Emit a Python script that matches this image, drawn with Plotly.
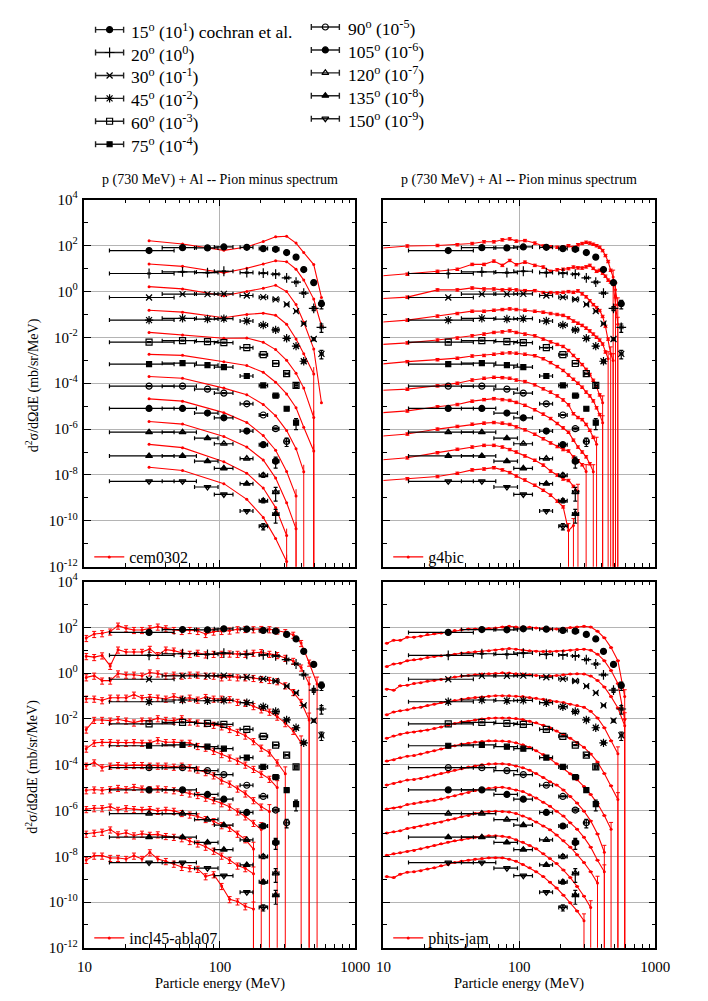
import plotly.graph_objects as go

FONT = "Liberation Serif"
RED = "#ff0000"

# ---------------------------------------------------------------- angles
angles = [15, 20, 30, 45, 60, 75, 90, 105, 120, 135, 150]
scale_exp = [1, 0, -1, -2, -3, -4, -5, -6, -7, -8, -9]
exp_symbols = ["circle", "cross-thin-open", "x-thin-open", "asterisk-open", "square-open",
               "square", "circle-open", "circle", "triangle-up-open", "triangle-up",
               "triangle-down-open"]
exp_sizes = [6, 7, 6, 7, 6, 5, 6, 6, 6, 6, 6]

# ------------------------------------------------- Cochran et al. (mb/sr/MeV)
exp_energy = [30, 53, 81, 107, 158, 209, 258, 311, 365, 416, 493, 562]
exp_bin_lo = [15.3, 37.5, 65, 91, 141, 195, 246, 302, 356, 405, 481, 550]
exp_bin_hi = [45.9, 67.1, 96.9, 124.9, 175.5, 225, 273, 323, 377, 430, 505, 578]
exp_values = [
    [6.0, 8.0, 7.8, 8.6, 8.3, 7.3, 6.8, 4.9, 3.1, 0.89, 0.24, 0.029],
    [6.0, 7.0, 6.6, 7.5, 6.6, 6.2, 5.6, 3.9, 2.5, 0.84, 0.18, 0.027],
    [5.4, 7.6, 7.6, 7.8, 6.6, 5.6, 4.5, 2.7, 1.37, 0.39, 0.084, 0.019],
    [5.6, 6.7, 6.2, 6.5, 5.1, 3.4, 2.1, 0.90, 0.41, 0.090],
    [6.1, 7.1, 6.4, 5.8, 3.5, 1.74, 0.72, 0.26, 0.080],
    [6.7, 7.4, 6.1, 5.0, 2.05, 0.80, 0.286, 0.077, 0.019],
    [7.4, 7.4, 5.5, 3.7, 1.26, 0.41, 0.104, 0.029],
    [7.9, 7.9, 5.0, 3.1, 0.82, 0.21, 0.040],
    [7.3, 7.3, 4.0, 2.3, 0.52, 0.098, 0.018],
    [6.8, 6.8, 4.0, 1.95, 0.42, 0.076, 0.020],
    [5.3, 5.3, 3.0, 1.42, 0.27, 0.058],
]
exp_rel_err = [
    [0.05, 0.05, 0.05, 0.05, 0.05, 0.05, 0.05, 0.05, 0.05, 0.05, 0.08, 0.4],
    [0.05, 0.05, 0.05, 0.05, 0.05, 0.05, 0.05, 0.05, 0.05, 0.05, 0.2, 0.4],
    [0.05, 0.05, 0.05, 0.05, 0.05, 0.05, 0.05, 0.05, 0.05, 0.05, 0.15, 0.4],
    [0.05, 0.05, 0.05, 0.05, 0.05, 0.05, 0.05, 0.05, 0.05, 0.15],
    [0.05, 0.05, 0.05, 0.05, 0.05, 0.05, 0.05, 0.05, 0.2],
    [0.05, 0.05, 0.05, 0.05, 0.05, 0.05, 0.05, 0.15, 0.5],
    [0.05, 0.05, 0.05, 0.05, 0.05, 0.05, 0.1, 0.4],
    [0.05, 0.05, 0.05, 0.05, 0.05, 0.15, 0.5],
    [0.05, 0.05, 0.05, 0.05, 0.05, 0.2, 0.6],
    [0.05, 0.05, 0.05, 0.05, 0.05, 0.2, 0.6],
    [0.05, 0.05, 0.05, 0.05, 0.05, 0.3],
]

# ------------------------------------------------------------ cem0302
cem_energy = [30, 53, 107, 158, 209, 258, 311, 365, 416, 493, 562]
cem_values = [
    [16, 11.5, 6.1, 8.6, 14.9, 23.7, 25.3, 12.7, 4.9, 1.46, 0.054],
    [15.5, 12.3, 6.4, 10.1, 15.5, 21.6, 19.6, 9.2, 3.1, 0.46, 0.031],
    [16, 12.8, 6.4, 9.8, 13.7, 18.4, 9.8, 2.65, 0.45, 0.031, 1.4e-4],
    [15.1, 12.4, 7.1, 9.9, 11.2, 9.0, 3.7, 0.84, 0.19, 0.025],
    [16.3, 12.5, 9.0, 9.3, 6.1, 2.9, 0.99, 0.27, 0.061, 3.2e-3],
    [18, 16.3, 8.5, 5.9, 2.96, 1.10, 0.34, 0.085, 0.012, 1.1e-3],
    [19.4, 16.4, 6.1, 3.16, 1.18, 0.376, 0.086, 0.014, 1.4e-3],
    [20.7, 16.5, 5.2, 1.95, 0.52, 0.12, 0.0141, 1.2e-3],
    [21.5, 16.5, 4.75, 1.66, 0.45, 0.073, 6.2e-3, 4.5e-4],
    [21.6, 15.5, 3.8, 1.2, 0.27, 0.038, 2.3e-3],
    [21.6, 15.6, 4.2, 0.87, 0.142, 0.0169, 1.7e-3],
]
cem_rel_err = 0.0
cem_tail_full = [0, 0, 0, 1, 1, 1, 1, 1, 1, 1, 1]

# -------------------------------------------------------------- g4bic
g4bic_energy = [5, 15, 25, 35, 45, 55, 65, 75, 85, 95, 110, 130, 150, 170, 190, 210,
                230, 250, 270, 290, 310, 330, 350, 370, 390, 410, 430, 450, 470, 490,
                510, 530]
g4bic_values = [
    [5.4, 9.5, 10.0, 10.8, 12.2, 14.5, 14.5, 17.6, 19.4, 15.5, 16.4, 12.7, 9.5, 8.8, 8.4,
     8.6, 9.8, 8.3, 10.8, 12.2, 13.8, 12.7, 11.3, 9.8, 8.4, 6.0, 3.65, 2.0, 0.83, 0.42,
     0.116, 0.026],
    [3.4, 5.6, 7.5, 9.2, 15.0, 15.0, 20.8, 13.6, 22.3, 14.6, 18.8, 13.6, 11.5, 7.5, 8.7,
     9.2, 9.8, 11.5, 10.6, 10.4, 11.7, 13.6, 10.1, 7.5, 8.3, 6.2, 4.6, 3.1, 2.55, 2.1,
     0.26, 0.037],
    [3.9, 5.6, 11.6, 11.6, 14.1, 12.8, 12.8, 11.6, 12.4, 11.6, 10.8, 10.8, 8.9, 8.9, 8.6,
     9.1, 9.8, 9.1, 10.5, 7.8, 5.8, 3.9, 2.65, 1.97, 1.47, 0.81, 0.30, 0.084, 0.019,
     0.0096],
    [3.3, 5.6, 8.4, 10.9, 13.7, 13.7, 15.1, 16.2, 17.3, 16.2, 15.1, 13.7, 12.4, 10.9, 9.9,
     9.0, 7.1, 5.1, 4.1, 3.3, 2.5, 1.9, 1.38, 1.0, 0.76, 0.51, 0.23, 0.117],
    [3.8, 5.7, 7.6, 9.3, 11.6, 13.8, 16.3, 17.3, 19.1, 16.3, 13.8, 11.6, 8.4, 6.3, 4.9,
     4.0, 2.66, 1.62, 1.06, 0.65, 0.40, 0.24, 0.134, 0.067, 0.031, 0.014],
    [4.8, 8.7, 10.6, 12.3, 15.3, 16.2, 18.3, 20.2, 21.2, 20.2, 18.3, 15.8, 11.7, 7.9, 5.3,
     3.6, 2.26, 1.48, 1.0, 0.67, 0.41, 0.28, 0.17, 0.085, 0.043, 0.019],
    [4.1, 5.5, 7.7, 10.0, 13.8, 16.4, 18.1, 17.5, 16.4, 13.8, 11.8, 8.5, 5.7, 4.1, 2.8,
     1.87, 1.15, 0.47, 0.32, 0.26, 0.16, 0.089, 0.044, 0.022],
    [3.9, 6.2, 9.4, 11.8, 16.5, 19.3, 21.3, 19.3, 17.8, 14.6, 10.9, 7.0, 4.5, 2.9, 1.76,
     1.13, 0.73, 0.33, 0.166, 0.101, 0.062, 0.031, 0.014],
    [3.6, 6.1, 10.0, 13.1, 16.4, 18.2, 19.4, 18.2, 16.0, 12.5, 9.3, 6.0, 3.8, 2.5, 1.74,
     1.29, 1.12, 0.62, 0.42, 0.28, 0.141],
    [3.4, 5.6, 9.4, 13.2, 16.6, 19.6, 19.6, 16.6, 12.9, 10.1, 6.8, 4.4, 2.7, 1.48, 1.0,
     0.67, 0.58, 0.32, 0.197],
    [4.3, 6.9, 8.6, 11.9, 16.7, 18.4, 20.9, 16.7, 12.8, 9.1, 6.1, 3.6, 2.17, 1.33, 0.73,
     0.41, 0.038, 0.063],
]
g4bic_rel_err = 0.12
g4bic_tail_full = [3, 2, 2, 1, 1, 1, 1, 1, 1, 1, 2]

# ------------------------------------------------------ incl45-abla07
incl_energy = [10.3, 11.8, 13.5, 15.5, 17.7, 20.3, 23.2, 26.6, 30.4, 34.8, 39.9, 45.7,
               52.3, 59.9, 68.6, 78.5, 89.9, 103, 118, 135, 154, 177, 202, 232, 265,
               304, 348, 398, 456, 522, 598]
incl_values = [
    [3.4, 5.1, 5.5, 6.5, 11.8, 9.0, 7.6, 7.6, 9.0, 10.7, 9.0, 7.6, 6.9, 7.6, 6.9, 5.1, 6.5,
     6.9, 7.2, 8.2, 8.4, 8.2, 8.4, 8.2, 7.2, 6.1, 4.7, 2.05, 0.285, 0.0335],
    [5.5, 5.0, 5.9, 2.06, 10.6, 8.4, 8.4, 8.4, 11.4, 6.1, 10.6, 9.6, 7.7, 6.9, 7.7, 6.5,
     6.9, 6.9, 7.1, 6.9, 6.9, 7.7, 8.2, 6.9, 6.1, 4.6, 3.4, 1.74, 0.335],
    [6.5, 7.7, 4.7, 4.7, 9.6, 8.5, 8.5, 7.7, 10.6, 9.6, 7.7, 8.5, 7.7, 8.5, 8.5, 7.7, 7.7,
     6.5, 7.0, 6.5, 6.5, 6.1, 5.5, 5.0, 4.4, 2.9, 1.48, 0.55, 0.090],
    [7.6, 7.6, 6.5, 8.4, 8.4, 8.4, 11.4, 8.2, 9.0, 8.4, 7.6, 9.6, 7.6, 8.4, 6.9, 9.0, 7.6,
     7.6, 7.2, 5.5, 5.0, 3.6, 2.6, 2.05, 1.25, 0.65, 0.3, 0.09],
    [3.4, 9.0, 9.0, 8.4, 9.6, 8.4, 6.9, 8.4, 8.4, 10.6, 9.0, 8.4, 10.6, 7.6, 6.9, 6.5, 5.5,
     4.7, 3.6, 2.7, 1.86, 1.06, 0.55, 0.34, 0.125, 0.040],
    [5.0, 9.0, 9.6, 9.6, 9.0, 9.0, 9.6, 9.0, 9.0, 11.7, 9.6, 9.6, 9.0, 9.0, 6.5, 5.5, 4.0,
     2.9, 2.04, 1.48, 1.0, 0.65, 0.40, 0.24, 0.10],
    [9.0, 12.5, 7.6, 9.0, 9.6, 9.0, 9.6, 9.6, 9.0, 9.0, 9.0, 8.1, 9.0, 7.6, 6.1, 4.7, 3.4,
     2.05, 1.48, 0.90, 0.55, 0.28, 0.147, 0.09],
    [7.6, 8.2, 7.6, 8.4, 9.6, 8.4, 10.6, 9.0, 8.4, 9.0, 8.4, 7.6, 6.5, 5.5, 4.7, 3.6, 2.8,
     2.06, 1.47, 0.90, 0.55, 0.285, 0.147],
    [11.4, 12.5, 12.5, 14.7, 10.6, 12.5, 11.4, 10.6, 11.4, 9.6, 10.6, 9.6, 7.7, 6.6, 5.5,
     4.2, 3.4, 2.26, 1.74, 0.96, 0.55, 0.205],
    [9.6, 10.6, 11.7, 14.7, 9.0, 10.6, 8.1, 9.6, 8.6, 9.0, 7.6, 7.0, 6.1, 4.6, 3.6, 2.6,
     1.73, 1.06, 0.69, 0.39, 0.30, 0.17],
    [6.9, 10.6, 10.6, 8.4, 8.4, 7.6, 10.6, 7.6, 14.8, 7.6, 6.1, 4.7, 3.4, 3.0, 2.8, 1.33,
     1.62, 0.50, 0.133, 0.106, 0.065, 0.05],
]
incl_rel_err = 0.3
incl_tail_full = [1, 1, 1, 1, 1, 1, 1, 1, 1, 1, 1]

# ---------------------------------------------------------- phits-jam
phits_energy = [10.6, 11.9, 13.3, 15.0, 16.8, 18.8, 21.1, 23.7, 26.6, 29.9, 33.5, 37.6,
                42.2, 47.3, 53.1, 59.6, 66.8, 75.0, 84.1, 94.4, 106, 119, 133, 150, 168,
                188, 211, 237, 266, 299, 335, 376, 422, 473, 531, 596]
phits_values = [
    [2.0, 2.7, 2.7, 3.7, 3.7, 4.1, 4.8, 5.3, 5.7, 6.5, 7.2, 7.9, 8.5, 8.5, 8.8, 8.8, 9.4,
     10.3, 11.0, 10.3, 10.3, 10.0, 9.4, 8.8, 8.5, 8.5, 8.8, 9.7, 10.3, 11.0, 10.3, 6.7,
     3.5, 1.30, 0.35, 0.0094],
    [1.93, 2.5, 2.7, 3.5, 3.8, 4.1, 4.8, 5.3, 5.7, 6.1, 6.7, 7.4, 7.9, 8.5, 8.8, 9.4, 10.3,
     11.0, 11.8, 11.0, 10.0, 9.4, 9.1, 8.8, 8.8, 9.1, 9.4, 10.0, 10.7, 11.0, 10.0, 6.7,
     3.5, 1.30, 0.35, 0.0093],
    [1.99, 1.8, 2.8, 2.96, 3.5, 3.8, 4.4, 4.8, 5.3, 5.7, 6.7, 7.4, 7.9, 8.5, 9.1, 9.4, 9.7,
     10.3, 10.0, 9.4, 9.1, 8.5, 7.9, 7.4, 7.4, 7.9, 8.5, 9.1, 9.4, 9.1, 7.4, 4.8, 2.5,
     0.94, 0.30, 0.05],
    [1.53, 1.99, 2.27, 2.5, 2.96, 3.2, 3.8, 4.4, 5.2, 5.7, 6.3, 7.2, 7.9, 8.5, 9.1, 9.7,
     10.3, 10.3, 10.3, 9.7, 9.4, 8.5, 7.9, 7.2, 6.3, 5.7, 5.2, 4.4, 3.8, 3.2, 2.13, 1.10,
     0.41, 0.110, 0.030],
    [1.43, 1.81, 2.12, 2.5, 2.7, 2.95, 3.3, 3.8, 4.4, 5.3, 6.3, 7.4, 7.9, 9.0, 10.0, 10.7,
     11.0, 11.0, 11.0, 10.3, 9.3, 7.9, 6.7, 5.3, 4.1, 2.95, 2.12, 1.43, 0.93, 0.57, 0.295,
     0.130, 0.041, 0.012, 0.003],
    [1.43, 1.63, 1.99, 2.34, 2.5, 2.95, 3.5, 4.1, 4.8, 5.7, 6.7, 7.9, 8.7, 9.7, 10.3, 11.0,
     11.0, 10.7, 10.3, 9.0, 7.4, 5.7, 4.1, 2.76, 1.80, 1.10, 0.67, 0.40, 0.22, 0.11, 0.05,
     0.02, 0.006, 0.0015],
    [1.30, 1.52, 1.80, 2.13, 2.26, 2.5, 2.95, 3.5, 4.1, 4.8, 5.7, 6.7, 7.9, 8.7, 10.0,
     10.7, 11.0, 11.0, 10.3, 8.7, 7.4, 5.7, 4.1, 2.76, 1.80, 1.30, 0.79, 0.41, 0.21, 0.093,
     0.035, 0.0094, 0.0015],
    [1.17, 1.29, 1.43, 1.81, 1.99, 2.27, 2.5, 2.76, 3.15, 3.8, 4.4, 5.3, 6.1, 7.4, 8.5,
     9.3, 10.0, 10.3, 9.3, 7.9, 6.7, 4.8, 3.5, 2.27, 1.53, 0.93, 0.57, 0.29, 0.152, 0.067,
     0.025, 0.0067, 0.0021],
    [1.03, 1.17, 1.30, 1.63, 1.80, 2.12, 2.42, 2.76, 3.15, 3.8, 4.4, 5.3, 6.1, 7.4, 8.5,
     9.0, 9.3, 9.0, 8.5, 7.4, 5.7, 4.4, 3.15, 2.12, 1.43, 0.85, 0.48, 0.25, 0.117, 0.053,
     0.021, 0.0067],
    [1.10, 1.30, 1.43, 1.63, 1.80, 2.13, 2.5, 2.95, 3.5, 4.1, 4.7, 5.3, 6.1, 6.7, 7.4, 7.9,
     7.9, 7.4, 6.7, 5.3, 4.1, 2.95, 2.13, 1.30, 0.79, 0.48, 0.25, 0.117, 0.048, 0.018,
     0.0057],
    [1.29, 1.17, 1.63, 1.99, 2.12, 2.34, 2.76, 3.14, 3.8, 4.4, 5.3, 6.1, 6.7, 7.4, 7.9,
     8.5, 8.7, 8.5, 7.4, 6.1, 4.4, 3.14, 2.12, 1.29, 0.74, 0.41, 0.199, 0.093, 0.041,
     0.0152],
]
phits_rel_err = 0.03
phits_tail_full = [1, 1, 1, 1, 1, 1, 1, 1, 1, 1, 1]

# ------------------------------------------------------------- axes / ticks
title_text = "p (730 MeV) + Al -- Pion minus spectrum"
ytitle_text = "d<sup>2</sup>σ/dΩdE (mb/sr/MeV)"
xtitle_text = "Particle energy (MeV)"
y_tickvals = [1e4, 1e2, 1e0, 1e-2, 1e-4, 1e-6, 1e-8, 1e-10, 1e-12]
y_ticktext = ["10<sup>4</sup>", "10<sup>2</sup>", "10<sup>0</sup>", "10<sup>-2</sup>",
              "10<sup>-4</sup>", "10<sup>-6</sup>", "10<sup>-8</sup>", "10<sup>-10</sup>",
              "10<sup>-12</sup>"]
y_minor = [1e3, 1e1, 1e-1, 1e-3, 1e-5, 1e-7, 1e-9, 1e-11]
x_tickvals = [10, 100, 1000]
x_ticktext = ["10", "100", "1000"]
x_minor = [20, 30, 40, 50, 60, 70, 80, 90, 200, 300, 400, 500, 600, 700, 800, 900]

W, H = 708, 1001
COL_X = [(79, 359), (388, 669)]
ROW_Y = [(193, 567), (582, 955)]
LEGEND_MID_Y = [557, 945]

panels = [
    # name, energies, values, rel err, tail, column, row, legend
    ("cem0302", cem_energy, cem_values, cem_rel_err, cem_tail_full, 0, 0, "legend2"),
    ("g4bic", g4bic_energy, g4bic_values, g4bic_rel_err, g4bic_tail_full, 1, 0, "legend3"),
    ("incl45-abla07", incl_energy, incl_values, incl_rel_err, incl_tail_full, 0, 1, "legend4"),
    ("phits-jam", phits_energy, phits_values, phits_rel_err, phits_tail_full, 1, 1, "legend5"),
]

fig = go.Figure()

for p_idx, (name, energy, values, rel_err, tail_full, col, row, leg) in enumerate(panels):
    ax = "" if p_idx == 0 else str(p_idx + 1)
    xref, yref = "x" + ax, "y" + ax
    cap = 0 if rel_err == 0 else 2
    for i, vals in enumerate(values):
        fac = 10.0 ** scale_exp[i]
        n = len(vals)
        ys = [v * fac for v in vals]
        rel = [rel_err] * n
        for j in range(n - tail_full[i], n):
            rel[j] = 1.0
        plus = [r * y for r, y in zip(rel, ys)]
        minus = [min(r, 1.0) * y for r, y in zip(rel, ys)]
        fig.add_trace(go.Scatter(
            x=energy[:n], y=ys, mode="lines+markers", name=name,
            line=dict(color=RED, width=1.1),
            marker=dict(color=RED, size=3, symbol="circle"),
            error_y=dict(type="data", array=plus, arrayminus=minus, symmetric=False,
                         color=RED, thickness=1, width=cap, visible=True),
            xaxis=xref, yaxis=yref, legend=leg, showlegend=(i == 0),
            hoverinfo="skip"))
    for i, vals in enumerate(exp_values):
        fac = 10.0 ** scale_exp[i]
        n = len(vals)
        ys = [v * fac for v in vals]
        xe = exp_energy[:n]
        fig.add_trace(go.Scatter(
            x=xe, y=ys, mode="markers",
            marker=dict(color="black", size=exp_sizes[i], symbol=exp_symbols[i],
                        line=dict(color="black", width=1.2)),
            error_x=dict(type="data", array=[h - e for h, e in zip(exp_bin_hi, xe)],
                         arrayminus=[e - l for l, e in zip(exp_bin_lo, xe)],
                         symmetric=False, color="black", thickness=1.2, width=2),
            error_y=dict(type="data", array=[r * y for r, y in zip(exp_rel_err[i], ys)],
                         symmetric=True, color="black", thickness=1.2, width=2),
            xaxis=xref, yaxis=yref, showlegend=False, hoverinfo="skip"))

# ------------------------------------------------------------ legend of angles
LEG_GLYPH_X = [105, 328]
LEG_TEXT_X = [125, 349]
LEG_ROWS = [[20, 43.3, 66.7, 90, 113.3, 136.7], [17.3, 40.7, 64, 87.3, 110.7]]
LEG_TOP = 160
annotations = []
for i, a in enumerate(angles):
    c = 0 if i < 6 else 1
    r = i if i < 6 else i - 6
    fig.add_trace(go.Scatter(
        x=[LEG_GLYPH_X[c]], y=[LEG_ROWS[c][r]], mode="markers",
        marker=dict(color="black", size=exp_sizes[i], symbol=exp_symbols[i],
                    line=dict(color="black", width=1.2)),
        error_x=dict(type="constant", value=14.5, color="#222222", thickness=1.4, width=3),
        xaxis="x5", yaxis="y5", showlegend=False, hoverinfo="skip"))
    label = "%d<sup>o</sup> (10<sup>%d</sup>)" % (a, scale_exp[i])
    if i == 0:
        label += " cochran et al."
    annotations.append(dict(x=LEG_TEXT_X[c], y=LEG_ROWS[c][r] + 1, xref="x5", yref="y5",
                            text=label, showarrow=False, xanchor="left", yanchor="middle",
                            font=dict(family=FONT, size=17.5, color="black")))


def axis(col, row, is_x):
    lo, hi = (COL_X[col] if is_x else ROW_Y[row])
    if is_x:
        dom = [lo / W, hi / W]
    else:
        dom = [1 - hi / H, 1 - lo / H]
    d = dict(type="log", domain=dom, showline=True, linecolor="black", linewidth=1.5,
             mirror="allticks", ticks="inside", ticklen=7, tickwidth=1, tickcolor="black",
             showgrid=True, gridcolor="#b4b4b4", gridwidth=1.2, zeroline=False,
             tickfont=dict(family=FONT, size=15, color="black"),
             minor=dict(ticks="inside", ticklen=4, tickcolor="black", showgrid=False))
    if is_x:
        d.update(range=[1, 3], tickvals=x_tickvals, ticktext=x_ticktext,
                 showticklabels=(row == 1), ticklabelstandoff=4)
        d["minor"]["tickvals"] = x_minor
    else:
        d.update(range=[-12, 4], tickvals=y_tickvals, ticktext=y_ticktext,
                 showticklabels=(col == 0), ticklabelstandoff=2)
        d["minor"]["tickvals"] = y_minor
    return d


layout = dict(width=W, height=H, margin=dict(l=0, r=0, t=0, b=0), autosize=False,
              paper_bgcolor="white", plot_bgcolor="white",
              font=dict(family=FONT, color="black"), showlegend=True)
for p_idx, (name, energy, values, rel_err, tail_full, col, row, leg) in enumerate(panels):
    ax = "" if p_idx == 0 else str(p_idx + 1)
    xa = axis(col, row, True)
    ya = axis(col, row, False)
    xa["anchor"] = "y" + ax
    ya["anchor"] = "x" + ax
    layout["xaxis" + ax] = xa
    layout["yaxis" + ax] = ya
    x0, x1 = COL_X[col]
    y0, y1 = ROW_Y[row]
    layout[leg] = dict(x=(x0 + 5) / W, y=1 - LEGEND_MID_Y[row] / H, xanchor="left",
                       yanchor="middle", bgcolor="rgba(0,0,0,0)", borderwidth=0,
                       itemwidth=30, font=dict(family=FONT, size=16, color="black"))
    cx = (x0 + x1) / 2
    if row == 0:
        annotations.append(dict(x=cx / W, y=1 - 173 / H, xref="paper", yref="paper",
                                text=title_text, showarrow=False, xanchor="center",
                                yanchor="middle", font=dict(family=FONT, size=14)))
    else:
        annotations.append(dict(x=cx / W, y=1 - 991 / H, xref="paper", yref="paper",
                                text=xtitle_text, showarrow=False, xanchor="center",
                                yanchor="middle", font=dict(family=FONT, size=14.5)))
    if col == 0:
        annotations.append(dict(x=25 / W, y=1 - ((y0 + y1) / 2 + 2) / H, xref="paper",
                                yref="paper", text=ytitle_text, showarrow=False,
                                textangle=-90, xanchor="center", yanchor="middle",
                                font=dict(family=FONT, size=14)))

layout["xaxis5"] = dict(domain=[0, 1], range=[0, W], visible=False, anchor="y5",
                        fixedrange=True)
layout["yaxis5"] = dict(domain=[1 - LEG_TOP / H, 1], range=[LEG_TOP, 0], visible=False,
                        anchor="x5", fixedrange=True)
layout["annotations"] = annotations
fig.update_layout(**layout)

fig.write_html("out.html")
